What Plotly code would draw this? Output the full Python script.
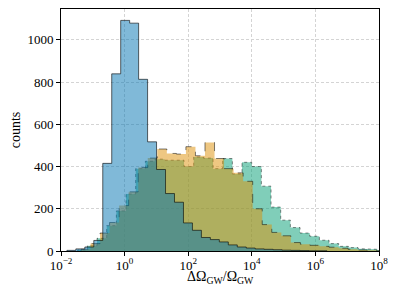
import numpy as np
import plotly.graph_objects as go

# ---- data (log10 bin edges: start, width; counts per bin) ----
blue_start, blue_width = -1.815, 0.282
blue_counts = [3, 10, 19, 50, 415, 839, 1092, 1079, 813, 517, 386, 272, 231, 133,
               98, 64, 54, 43, 29, 19, 14, 10, 8, 6, 4, 3, 2, 1, 1]

orange_start, orange_width = -1.372, 0.300
orange_counts = [8, 35, 85, 135, 215, 280, 395, 440, 483, 462, 459, 494, 451, 514,
                 438, 390, 370, 330, 200, 125, 88, 72, 40, 32, 27, 22, 18, 13, 8, 5, 3, 1]

green_start, green_width = -1.475, 0.304
green_counts = [5, 25, 60, 120, 190, 270, 390, 425, 435, 430, 430, 400, 445, 440,
                390, 438, 365, 420, 400, 307, 208, 146, 111, 85, 70, 51, 35, 22, 16, 11, 8, 5]

x_tickvals = [1e-2, 1e0, 1e2, 1e4, 1e6, 1e8]
x_ticktext = ["10<sup>−2</sup>", "10<sup>0</sup>", "10<sup>2</sup>",
              "10<sup>4</sup>", "10<sup>6</sup>", "10<sup>8</sup>"]
y_tickvals = [0, 200, 400, 600, 800, 1000]
x_title = "ΔΩ<sub>GW</sub>/Ω<sub>GW</sub>"
y_title = "counts"


def step_polygon(start, width, counts):
    counts = list(counts)
    edges = 10 ** (start + width * np.arange(len(counts) + 1))
    xs, ys = [edges[0]], [0]
    for i, c in enumerate(counts):
        xs += [edges[i], edges[i + 1]]
        ys += [c, c]
    xs.append(edges[-1])
    ys.append(0)
    return xs, ys


fig = go.Figure()
series = [
    (green_start, green_width, green_counts, "rgba(2,158,115,0.5)", "rgba(0,0,0,0.45)", "dot"),
    (orange_start, orange_width, orange_counts, "rgba(222,143,5,0.5)", "rgba(0,0,0,0.5)", "dash"),
    (blue_start, blue_width, blue_counts, "rgba(1,115,178,0.5)", "rgba(0,0,0,0.6)", "solid"),
]
for s, w, c, fc, lc, dash in series:
    xs, ys = step_polygon(s, w, c)
    fig.add_trace(go.Scatter(x=xs, y=ys, mode="lines", fill="toself", fillcolor=fc,
                             line=dict(color=lc, width=1, dash=dash), hoverinfo="skip",
                             showlegend=False))

font = "Liberation Serif"
fig.update_layout(
    width=391, height=291,
    margin=dict(l=53, r=20, t=1, b=48),
    paper_bgcolor="white", plot_bgcolor="white",
    font=dict(family=font, size=13, color="black"),
)
fig.add_annotation(text=x_title, xref="paper", yref="paper", x=0.5, y=0,
                   xanchor="center", yanchor="top", yshift=-16, showarrow=False,
                   font=dict(size=14))
fig.update_xaxes(
    type="log", range=[-2, 8], tickvals=x_tickvals, ticktext=x_ticktext,
    showgrid=True, gridcolor="#d4d4d4", griddash="3px,2px", gridwidth=0.8,
    showline=True, linecolor="black", linewidth=1, mirror=True,
    ticks="outside", ticklen=4, tickcolor="black", ticklabelstandoff=-2,
    zeroline=False, automargin=False,
)
fig.update_yaxes(
    range=[0, 1146], tickvals=y_tickvals,
    showgrid=True, gridcolor="#d4d4d4", griddash="3px,2px", gridwidth=0.8,
    showline=True, linecolor="black", linewidth=1, mirror=True,
    ticks="outside", ticklen=4, tickcolor="black",
    title=dict(text=y_title, font=dict(size=14), standoff=3),
    zeroline=False, automargin=False,
)
fig.write_html("out.html")
